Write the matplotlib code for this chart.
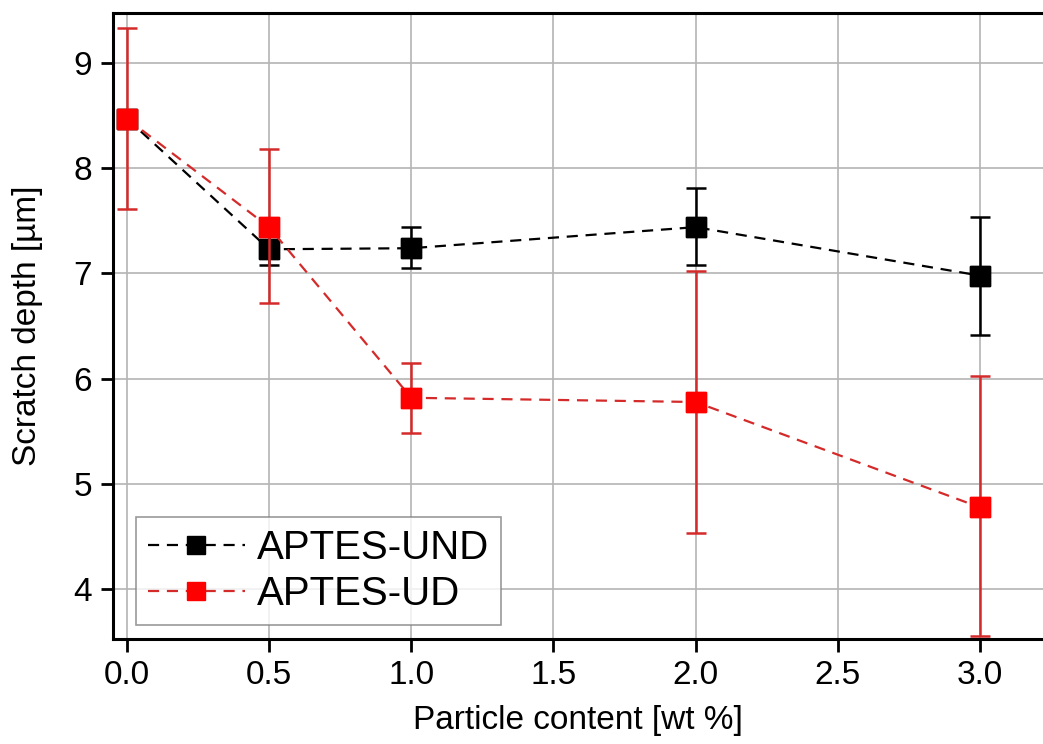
import matplotlib
matplotlib.use('Agg')
import matplotlib.pyplot as plt

plt.rcParams['font.family'] = ['Liberation Sans', 'DejaVu Sans']

# Data (particle content in wt %, scratch depth in um)
content = [0.0, 0.5, 1.0, 2.0, 3.0]

und_depth = [8.47, 7.23, 7.24, 7.44, 6.98]
und_err_low = [0.05, 0.15, 0.19, 0.36, 0.56]
und_err_high = [0.05, 0.15, 0.20, 0.37, 0.56]

ud_depth = [8.47, 7.44, 5.82, 5.78, 4.78]
ud_err_low = [0.86, 0.72, 0.33, 1.24, 1.22]
ud_err_high = [0.86, 0.74, 0.33, 1.24, 1.25]

fig = plt.figure(figsize=(10.43, 7.44), dpi=100)
ax = fig.add_axes([113 / 1043, 1 - 639 / 744, 1 - 113 / 1043, (639 - 13) / 744])

dash = (0, (5, 3.5))
ax.errorbar(content, und_depth, yerr=[und_err_low, und_err_high],
            color='black', ls='none', marker='s', ms=15,
            mfc='black', mec='black', ecolor='black', elinewidth=1.8,
            capsize=7.5, capthick=1.8, zorder=3)
ax.plot(content, und_depth, color='black', ls=dash, lw=1.6, marker='s', ms=15,
        mfc='black', mec='black', label='APTES-UND', zorder=3)
ax.errorbar(content, ud_depth, yerr=[ud_err_low, ud_err_high],
            color='#d42a2a', ls='none', marker='s', ms=15,
            mfc='#ff0000', mec='#ff0000', ecolor='#d42a2a', elinewidth=1.8,
            capsize=7.5, capthick=1.8, zorder=4)
ax.plot(content, ud_depth, color='#d42a2a', ls=dash, lw=1.6, marker='s', ms=15,
        mfc='#ff0000', mec='#ff0000', label='APTES-UD', zorder=4)

ax.set_xlim(-0.049, 3.222)
ax.set_ylim(3.53, 9.473)
ax.set_xticks([0.0, 0.5, 1.0, 1.5, 2.0, 2.5, 3.0])
ax.set_xticklabels(['0.0', '0.5', '1.0', '1.5', '2.0', '2.5', '3.0'])
ax.set_yticks([4, 5, 6, 7, 8, 9])

ax.grid(True, color='#b4b4b4', lw=1.2)
ax.set_axisbelow(True)

for s in ['left', 'bottom', 'top']:
    ax.spines[s].set_linewidth(2.2)
ax.spines['right'].set_visible(False)
ax.tick_params(axis='both', direction='out', length=9, width=2, labelsize=24, pad=6)
ax.tick_params(top=False, right=False)

ax.set_xlabel('Particle content [wt %]', fontsize=24, labelpad=10)
ax.set_ylabel('Scratch depth [µm]', fontsize=24, labelpad=22)

leg = ax.legend(loc='lower left', bbox_to_anchor=(23 / 930, 14 / 626), fontsize=29,
                frameon=True, fancybox=False, edgecolor='#808080',
                handlelength=2.4, handletextpad=0.3, borderpad=0.3,
                labelspacing=0.2, borderaxespad=0, markerscale=0.85)
leg.get_frame().set_linewidth(1.2)

fig.savefig('out.png', dpi=100)
